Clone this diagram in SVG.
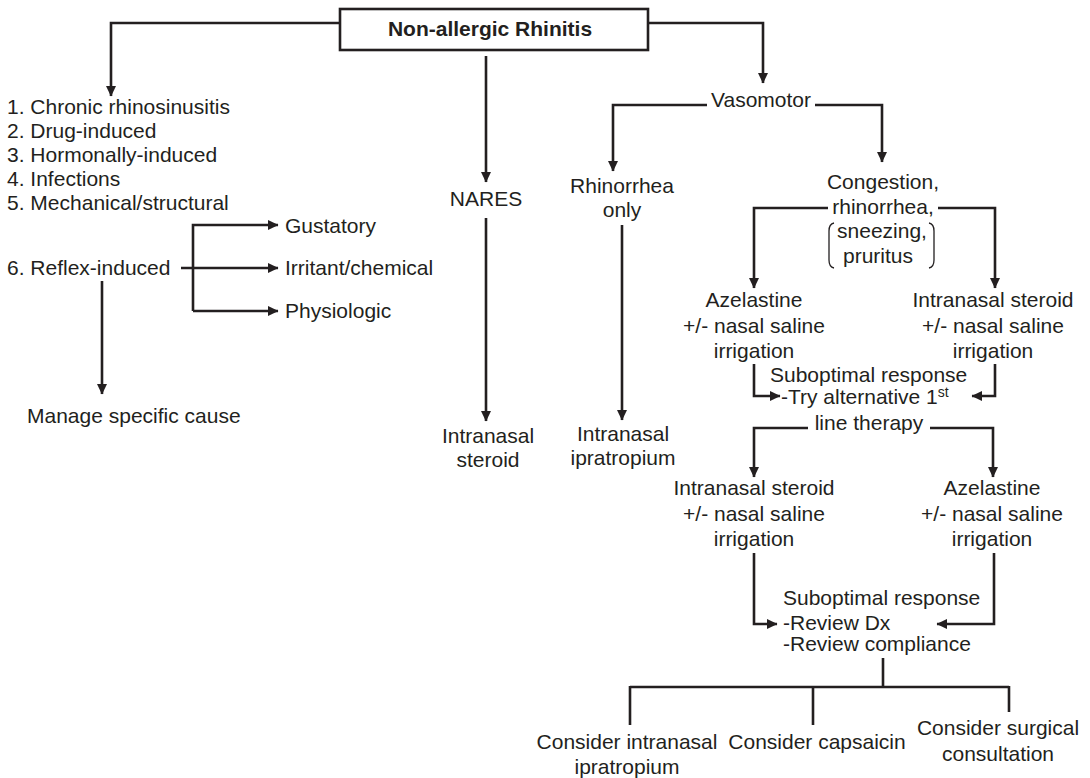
<svg xmlns="http://www.w3.org/2000/svg" width="1090" height="778" viewBox="0 0 1090 778">
<defs>
<style>
text{font-family:"Liberation Sans",Arial,Helvetica,sans-serif;font-size:21px;fill:#231f20}
.c{text-anchor:middle}
.b{font-weight:bold}
.ln{fill:none;stroke:#231f20;stroke-width:2.6}
.arr{marker-end:url(#ah)}
.box{fill:#fff;stroke:#231f20;stroke-width:2.6}
.par{fill:none;stroke:#231f20;stroke-width:1.3}
</style>
<marker id="ah" markerWidth="11" markerHeight="11" refX="10" refY="5.5" orient="auto" markerUnits="userSpaceOnUse">
<path d="M0,0.5 L10.5,5.5 L0,10.5 z" fill="#231f20"/>
</marker>
</defs>
<rect width="1090" height="778" fill="#fff"/>

<g id="connectors">
<path class="ln arr" d="M340,23 H111 V96"/>
<path class="ln arr" d="M486,56 V182"/>
<path class="ln arr" d="M648,23 H763 V83"/>
<path class="ln arr" d="M707,105 H613 V171"/>
<path class="ln arr" d="M815,105 H882 V162"/>
<path class="ln arr" d="M193,311 V225 H278"/>
<path class="ln arr" d="M181,268 H278"/>
<path class="ln arr" d="M193,311 H278"/>
<path class="ln arr" d="M102,281 V394"/>
<path class="ln arr" d="M486,218 V421"/>
<path class="ln arr" d="M622,225 V420"/>
<path class="ln arr" d="M828,208 H754 V288"/>
<path class="ln arr" d="M938,208 H995 V288"/>
<path class="ln arr" d="M754,364 V396 H780"/>
<path class="ln arr" d="M995,364 V396 H972"/>
<path class="ln arr" d="M808,428 H754 V477"/>
<path class="ln arr" d="M930,428 H993 V477"/>
<path class="ln arr" d="M754,553 V624 H777"/>
<path class="ln arr" d="M994,553 V624 H937"/>
<path class="ln" d="M883,658 V687 M630,687 H1009 M630,686 V725 M813,686 V725 M1009,686 V712"/>
</g>

<g id="n-root">
<rect class="box" x="340" y="9" width="308" height="41"/>
<text class="c b" x="490" y="36">Non-allergic Rhinitis</text>
</g>

<g id="n-list">
<text x="7" y="114">1. Chronic rhinosinusitis</text>
<text x="7" y="138">2. Drug-induced</text>
<text x="7" y="162">3. Hormonally-induced</text>
<text x="7" y="186">4. Infections</text>
<text x="7" y="210">5. Mechanical/structural</text>
</g>
<g id="n-reflex"><text x="7" y="275">6. Reflex-induced</text></g>
<g id="n-gustatory"><text x="285" y="233">Gustatory</text></g>
<g id="n-irritant"><text x="285" y="275">Irritant/chemical</text></g>
<g id="n-physiologic"><text x="285" y="318">Physiologic</text></g>
<g id="n-manage"><text x="27" y="423">Manage specific cause</text></g>

<g id="n-nares"><text class="c" x="486" y="206">NARES</text></g>
<g id="n-nares-steroid">
<text class="c" x="488" y="443">Intranasal</text>
<text class="c" x="488" y="467">steroid</text>
</g>

<g id="n-vasomotor"><text class="c" x="761" y="107">Vasomotor</text></g>
<g id="n-rhinorrhea">
<text class="c" x="622" y="193">Rhinorrhea</text>
<text class="c" x="622" y="217">only</text>
</g>
<g id="n-ipratropium">
<text class="c" x="623" y="441">Intranasal</text>
<text class="c" x="623" y="465">ipratropium</text>
</g>

<g id="n-congestion">
<text class="c" x="883" y="189">Congestion,</text>
<text class="c" x="883" y="214">rhinorrhea,</text>
<text class="c" x="882" y="238">sneezing,</text>
<text class="c" x="878" y="263">pruritus</text>
<path class="par" d="M834,223 Q829,224 829,231 V260 Q829,267 834,268"/>
<path class="par" d="M929,223 Q934,224 934,231 V260 Q934,267 929,268"/>
</g>

<g id="n-azel1">
<text class="c" x="754" y="307">Azelastine</text>
<text class="c" x="754" y="333">+/- nasal saline</text>
<text class="c" x="754" y="358">irrigation</text>
</g>
<g id="n-ster1">
<text class="c" x="993" y="307">Intranasal steroid</text>
<text class="c" x="993" y="333">+/- nasal saline</text>
<text class="c" x="993" y="358">irrigation</text>
</g>

<g id="n-subopt1">
<text x="770" y="382">Suboptimal response</text>
<text x="781" y="404">-Try alternative 1<tspan dy="-7" font-size="14">st</tspan></text>
<text class="c" x="869" y="430">line therapy</text>
</g>

<g id="n-ster2">
<text class="c" x="754" y="495">Intranasal steroid</text>
<text class="c" x="754" y="521">+/- nasal saline</text>
<text class="c" x="754" y="546">irrigation</text>
</g>
<g id="n-azel2">
<text class="c" x="992" y="495">Azelastine</text>
<text class="c" x="992" y="521">+/- nasal saline</text>
<text class="c" x="992" y="546">irrigation</text>
</g>

<g id="n-subopt2">
<text x="783" y="605">Suboptimal response</text>
<text x="783" y="630">-Review Dx</text>
<text x="783" y="651">-Review compliance</text>
</g>

<g id="n-ipra2">
<text class="c" x="627" y="749">Consider intranasal</text>
<text class="c" x="627" y="774">ipratropium</text>
</g>
<g id="n-caps"><text class="c" x="817" y="749">Consider capsaicin</text></g>
<g id="n-surg">
<text class="c" x="998" y="735">Consider surgical</text>
<text class="c" x="998" y="761">consultation</text>
</g>
</svg>
